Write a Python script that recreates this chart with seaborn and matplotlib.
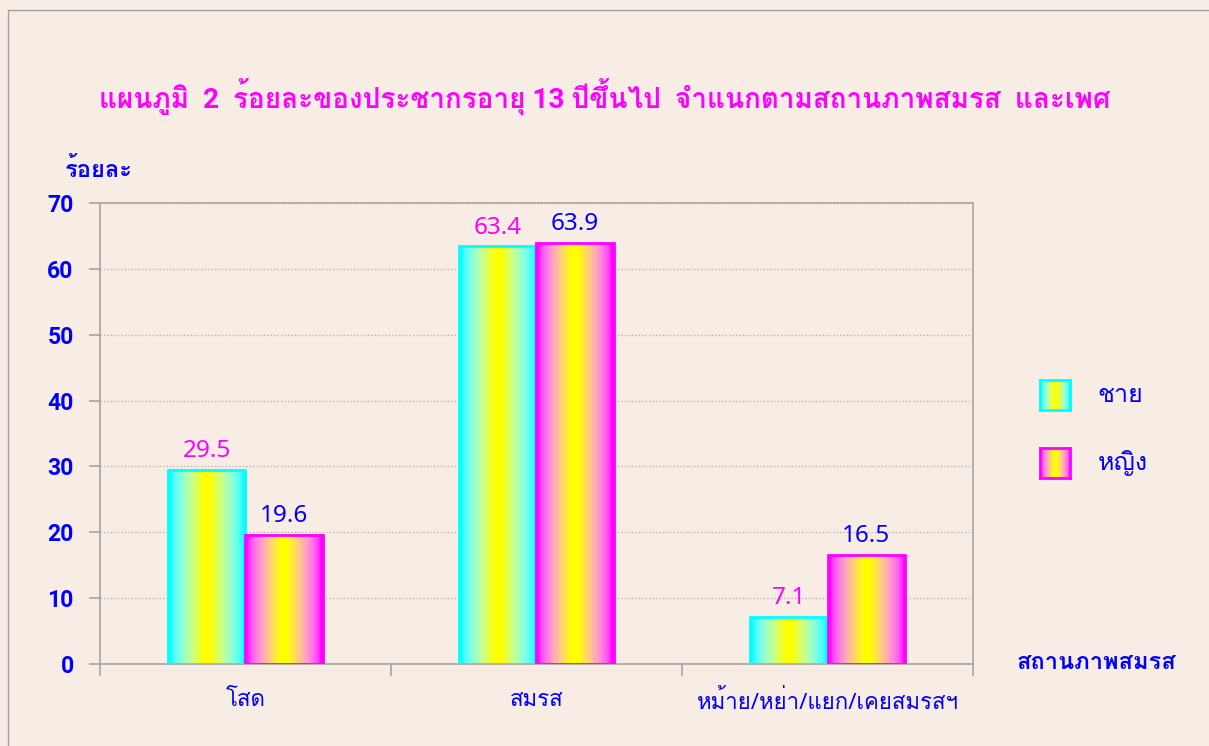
import numpy as np
import pandas as pd
import matplotlib
matplotlib.use("Agg")
import matplotlib.pyplot as plt
from matplotlib import font_manager
from matplotlib.ft2font import FT2Font
from matplotlib.patches import Rectangle
import seaborn as sns

# -----------------------------
# DATA
# -----------------------------
categories = ["โสด", "สมรส", "หม้าย/หย่า/แยก/เคยสมรสฯ"]
sexes = ["ชาย", "หญิง"]
male_values = [29.5, 63.4, 7.1]
female_values = [19.6, 63.9, 16.5]
y_ticks = [0, 10, 20, 30, 40, 50, 60, 70]

title_text = "แผนภูมิ  2  ร้อยละของประชากรอายุ 13 ปีขึ้นไป  จำแนกตามสถานภาพสมรส  และเพศ"
y_label = "ร้อยละ"
x_label = "สถานภาพสมรส"

BG = "#F8EDE4"
CYAN = np.array([0.0, 1.0, 1.0])
MAGENTA = np.array([1.0, 0.0, 1.0])
BLUE = "#0000FF"
PINK = "#FF00FF"


def find_thai_font():
    # pick an installed family that actually has Thai glyphs
    for f in font_manager.fontManager.ttflist:
        try:
            cmap = FT2Font(f.fname).get_charmap()
        except Exception:
            continue
        if 0x0E01 in cmap and 0x0E2A in cmap:
            return f.name
    return None


def gradient(edge, n=201):
    # edge colour -> pale -> yellow in the middle -> edge colour
    t = np.linspace(0, 1, n)
    d = np.abs(2 * t - 1)
    s = np.clip((0.94 - d) / (0.94 - 0.08), 0, 1)
    rgb = np.empty((n, 3))
    for c in range(3):
        target = 1.0 if c < 2 else 0.0
        if edge[c] < target:      # channel rising toward yellow: fast
            rgb[:, c] = edge[c] + (target - edge[c]) * s ** 0.55
        elif edge[c] > target:    # channel falling toward yellow: slow
            rgb[:, c] = edge[c] - (edge[c] - target) * s ** 1.7
        else:
            rgb[:, c] = edge[c]
    return rgb[None, :, :]


sns.set_theme(style="white")
thai = find_thai_font()
thai_list = [thai] if thai else []
plt.rcParams["font.family"] = ["Noto Sans"] + thai_list + ["DejaVu Sans"]
bold_family = ["Roboto"] + thai_list + ["DejaVu Sans"]

df = pd.DataFrame({
    "category": categories * 2,
    "sex": [sexes[0]] * 3 + [sexes[1]] * 3,
    "value": male_values + female_values,
})

fig = plt.figure(figsize=(12.09, 7.46), dpi=100, facecolor=BG)
ax = fig.add_axes([0.0827, 0.1099, 0.7221, 0.618])
ax.set_facecolor(BG)

sns.barplot(data=df, x="category", y="value", hue="sex", order=categories,
            hue_order=sexes, palette={sexes[0]: "cyan", sexes[1]: "magenta"},
            width=0.53, gap=0, legend=False, ax=ax, errorbar=None)

edges = [CYAN, MAGENTA]
label_colors = [PINK, BLUE]
for cont, edge, lc in zip(ax.containers, edges, label_colors):
    for rect in cont:
        x0, y0 = rect.get_x(), rect.get_y()
        w, h = rect.get_width(), rect.get_height()
        ax.imshow(gradient(edge), extent=[x0, x0 + w, y0, y0 + h],
                  aspect="auto", zorder=2, interpolation="bilinear")
        rect.set_facecolor("none")
        rect.set_edgecolor(edge)
        rect.set_linewidth(2)
        rect.set_zorder(3)
    ax.bar_label(cont, fmt="%.1f", padding=5, color=lc, fontsize=17.5)

ax.set_xlim(-0.5, 2.5)
ax.set_ylim(0, 70)
ax.set_yticks(y_ticks)
ax.set_yticklabels([str(v) for v in y_ticks], family=bold_family,
                   fontweight="bold")
ax.set_xlabel("")
ax.set_ylabel("")

ax.yaxis.grid(True, linestyle=(0, (1, 1.5)), color="#B8B4B0", linewidth=1)
ax.set_axisbelow(True)
for s in ax.spines.values():
    s.set_color("#A8A4A0")
    s.set_linewidth(1.2)

ax.tick_params(axis="y", colors="#A8A4A0", length=8, width=1.2,
               labelcolor=BLUE, labelsize=16.5, pad=11, left=True)
ax.set_xticks(range(len(categories)))
ax.set_xticklabels(categories)
ax.set_xticks([-0.5, 0.5, 1.5, 2.5], minor=True)
ax.tick_params(axis="x", which="major", length=0, labelcolor=BLUE,
               labelsize=16, pad=19)
ax.tick_params(axis="x", which="minor", length=8.5, width=1.2,
               color="#A8A4A0", bottom=True)

fig.text(0.5004, 0.8700, title_text, color=PINK, fontsize=20.1,
         fontweight="bold", ha="center", va="center", family=bold_family)
fig.text(0.054, 0.772, y_label, color=BLUE, fontsize=17,
         fontweight="bold", ha="left", va="center", family=bold_family)
fig.text(0.907, 0.1126, x_label, color=BLUE, fontsize=17,
         fontweight="bold", ha="center", va="center", family=bold_family)

# legend swatches
sw = [(0.4504, CYAN), (0.3592, MAGENTA)]
for (bottom, edge), name in zip(sw, sexes):
    lax = fig.add_axes([0.860, bottom, 0.025, 0.0402])
    lax.imshow(gradient(edge), aspect="auto", interpolation="bilinear")
    lax.set_xticks([])
    lax.set_yticks([])
    for s in lax.spines.values():
        s.set_color(edge)
        s.set_linewidth(2)
    fig.text(0.908, bottom + 0.020, name, color=BLUE, fontsize=18,
             ha="left", va="center")

# outer frame
fig.patches.append(Rectangle((8 / 1209, -0.1), 1.2, 1.1 - 10 / 746,
                             transform=fig.transFigure, fill=False,
                             edgecolor="#A0A0A0", linewidth=1))

fig.savefig("out.png", dpi=100, facecolor=BG)
